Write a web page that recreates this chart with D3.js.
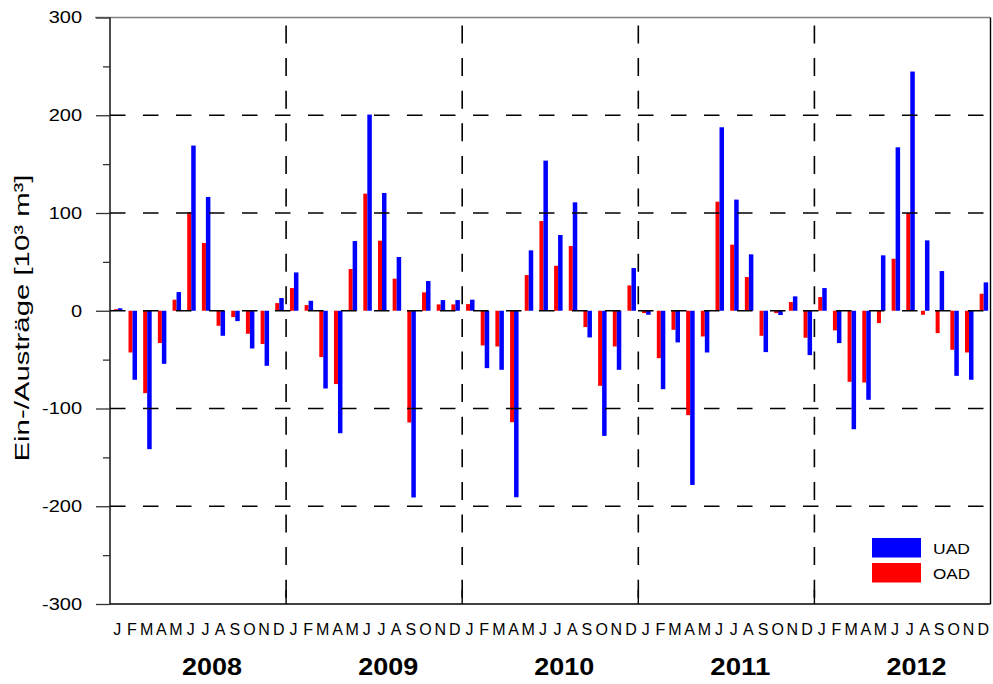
<!DOCTYPE html>
<html lang="de">
<head>
<meta charset="UTF-8">
<title>Ein-/Austräge UAD / OAD 2008-2012</title>
<script src="https://d3js.org/d3.v7.min.js"></script>
<style>
    * { margin: 0; padding: 0; box-sizing: border-box; }
    body { background: #fff; font-family: Arial, "Liberation Sans", sans-serif; }
    svg { display: block; }
</style>
</head>
<body>
<div id="chart"></div>
<script>
// monthly values, in 10^3 m^3
const months = ["J", "F", "M", "A", "M", "J", "J", "A", "S", "O", "N", "D"];
const years = ["2008", "2009", "2010", "2011", "2012"];

const uad2008 = [2.5, -70.6, -141.6, -54.3, 19.1, 169, 116.4, -25.6, -10.6, -38.6, -56.3, 13];
const oad2008 = [1.5, -42.7, -84.3, -33, 11.3, 100.7, 69.3, -15.4, -6.5, -23.5, -34, 7.8];
const uad2009 = [39.2, 10.2, -79.5, -125.3, 71.3, 200.7, 120.5, 55, -191, 30.4, 10.9, 10.9];
const oad2009 = [23.2, 5.8, -47.4, -75, 42.7, 119.8, 71.7, 32.8, -114.3, 18.8, 6.5, 6.5];
const uad2010 = [11.3, -58.7, -60.4, -190.8, 61.8, 153.6, 77.5, 110.9, -27.3, -128, -60.4, 43.7];
const oad2010 = [6.8, -35.5, -36.5, -114, 36.5, 91.8, 46, 66.2, -16.7, -76.8, -36.5, 25.9];
const uad2011 = [-4.1, -80.2, -32.4, -178.2, -42.7, 187.7, 113.7, 57.7, -42.3, -4.4, 14.7, -45.4];
const oad2011 = [-2.4, -48.5, -19.5, -106.8, -26.3, 111.6, 67.6, 34.5, -25.6, -2.4, 8.9, -27.6];
const uad2012 = [23.2, -33.1, -121.2, -91.1, 56.7, 167.2, 244.7, 72, 40.6, -66.6, -70.6, 29];
const oad2012 = [14, -20.1, -72.7, -73.4, -12.6, 53.2, 100, -4.1, -22.9, -39.9, -42.7, 17.4];

const yTicks = [-300, -200, -100, 0, 100, 200, 300];
const yMinorTicks = [-250, -150, -50, 50, 150, 250];
const gridValues = [-200, -100, 0, 100, 200];

const uad = [].concat(uad2008, uad2009, uad2010, uad2011, uad2012);
const oad = [].concat(oad2008, oad2009, oad2010, oad2011, oad2012);
const monthLabels = [].concat(...years.map(() => months));

const width = 993, height = 684;
const plotLeft = 110, plotRight = 990.5, plotTop = 17.5, plotBottom = 604;

const svg = d3.select("#chart").append("svg")
    .attr("width", width)
    .attr("height", height);

const x = d3.scaleBand().domain(d3.range(uad.length)).range([plotLeft, plotRight]).padding(0);
const xYear = d3.scaleLinear().domain([0, years.length]).range([plotLeft, plotRight]);
const y = d3.scaleLinear().domain([-300, 300]).range([plotBottom, plotTop]);
const cx = i => x(i) + x.bandwidth() / 2;

// bars: OAD (red) left of month centre, UAD (blue) right of it
svg.append("g").selectAll("rect")
    .data(oad)
    .enter().append("rect")
    .attr("x", (d, i) => cx(i) - 3.5)
    .attr("width", 4)
    .attr("y", d => y(Math.max(0, d)))
    .attr("height", d => Math.abs(y(d) - y(0)))
    .attr("fill", "#ff0000");

svg.append("g").selectAll("rect")
    .data(uad)
    .enter().append("rect")
    .attr("x", (d, i) => cx(i) + 0.5)
    .attr("width", 4.5)
    .attr("y", d => y(Math.max(0, d)))
    .attr("height", d => Math.abs(y(d) - y(0)))
    .attr("fill", "#0000ff");

// dashed grid, drawn over the bars
svg.append("g").selectAll("line")
    .data(gridValues)
    .enter().append("line")
    .attr("x1", plotLeft).attr("x2", plotRight)
    .attr("y1", d => y(d)).attr("y2", d => y(d))
    .attr("stroke", "#000")
    .attr("stroke-width", 1.6)
    .attr("stroke-dasharray", "15.5,17.5");

svg.append("g").selectAll("line")
    .data(d3.range(1, years.length))
    .enter().append("line")
    .attr("x1", d => xYear(d)).attr("x2", d => xYear(d))
    .attr("y1", plotTop + 8).attr("y2", plotBottom)
    .attr("stroke", "#000")
    .attr("stroke-width", 1.6)
    .attr("stroke-dasharray", "18,14.6");

// frame
svg.append("line")
    .attr("x1", plotLeft - 15).attr("x2", plotRight)
    .attr("y1", plotTop).attr("y2", plotTop)
    .attr("stroke", "#808080").attr("stroke-width", 1.6);
svg.append("line")
    .attr("x1", plotRight).attr("x2", plotRight)
    .attr("y1", plotTop).attr("y2", plotBottom)
    .attr("stroke", "#000").attr("stroke-width", 1.4);
svg.append("line")
    .attr("x1", plotLeft).attr("x2", plotRight)
    .attr("y1", plotBottom).attr("y2", plotBottom)
    .attr("stroke", "#000").attr("stroke-width", 1.4);
svg.append("line")
    .attr("x1", plotLeft).attr("x2", plotLeft)
    .attr("y1", plotTop).attr("y2", plotBottom)
    .attr("stroke", "#000").attr("stroke-width", 1.4);

// year ticks on the bottom axis
svg.append("g").selectAll("line")
    .data(d3.range(1, years.length))
    .enter().append("line")
    .attr("x1", d => xYear(d)).attr("x2", d => xYear(d))
    .attr("y1", plotBottom - 14).attr("y2", plotBottom)
    .attr("stroke", "#000").attr("stroke-width", 1.4);

// y axis ticks (plain hyphen for negatives, as in the original)
const yAxis = svg.append("g")
    .attr("transform", `translate(${plotLeft},0)`)
    .call(d3.axisLeft(y).tickValues(yTicks).tickSize(14).tickFormat(d => String(d)));
yAxis.select(".domain").remove();
yAxis.selectAll(".tick line").attr("stroke", "#333").attr("stroke-width", 1.3);
yAxis.selectAll("text")
    .attr("x", -22.4)
    .attr("dy", "0.33em")
    .attr("transform", "scale(1.25,1)")
    .attr("font-family", "Arial, 'Liberation Sans', sans-serif")
    .attr("font-size", 16)
    .attr("fill", "#000");

const yMinor = svg.append("g")
    .attr("transform", `translate(${plotLeft},0)`)
    .call(d3.axisLeft(y).tickValues(yMinorTicks).tickSize(7).tickFormat(""));
yMinor.select(".domain").remove();
yMinor.selectAll(".tick line").attr("stroke", "#333").attr("stroke-width", 1.3);

// y title
svg.append("text")
    .attr("transform", `translate(29,318) rotate(-90)`)
    .attr("text-anchor", "middle")
    .attr("font-size", 20)
    .attr("textLength", 287)
    .attr("lengthAdjust", "spacingAndGlyphs")
    .text("Ein-/Austräge [10³ m³]");

// month labels
svg.append("g").selectAll("text")
    .data(monthLabels)
    .enter().append("text")
    .attr("x", (d, i) => cx(i))
    .attr("y", 635)
    .attr("text-anchor", "middle")
    .attr("font-size", 16)
    .text(d => d);

// year labels
svg.append("g").selectAll("text")
    .data(years)
    .enter().append("text")
    .attr("x", (d, i) => (xYear(i) + xYear(i + 1)) / 2 + 14)
    .attr("y", 675)
    .attr("text-anchor", "middle")
    .attr("font-size", 23)
    .attr("font-weight", "bold")
    .attr("textLength", 60)
    .attr("lengthAdjust", "spacingAndGlyphs")
    .text(d => d);

// legend
const legend = [{name: "UAD", color: "#0000ff"}, {name: "OAD", color: "#ff0000"}];
const lg = svg.append("g").selectAll("g")
    .data(legend)
    .enter().append("g")
    .attr("transform", (d, i) => `translate(872,${538 + i * 25})`);
lg.append("rect")
    .attr("width", 49).attr("height", 19.5)
    .attr("fill", d => d.color);
lg.append("text")
    .attr("x", 61).attr("y", 16)
    .attr("font-size", 15)
    .attr("textLength", 37)
    .attr("lengthAdjust", "spacingAndGlyphs")
    .text(d => d.name);
</script>
</body>
</html>
